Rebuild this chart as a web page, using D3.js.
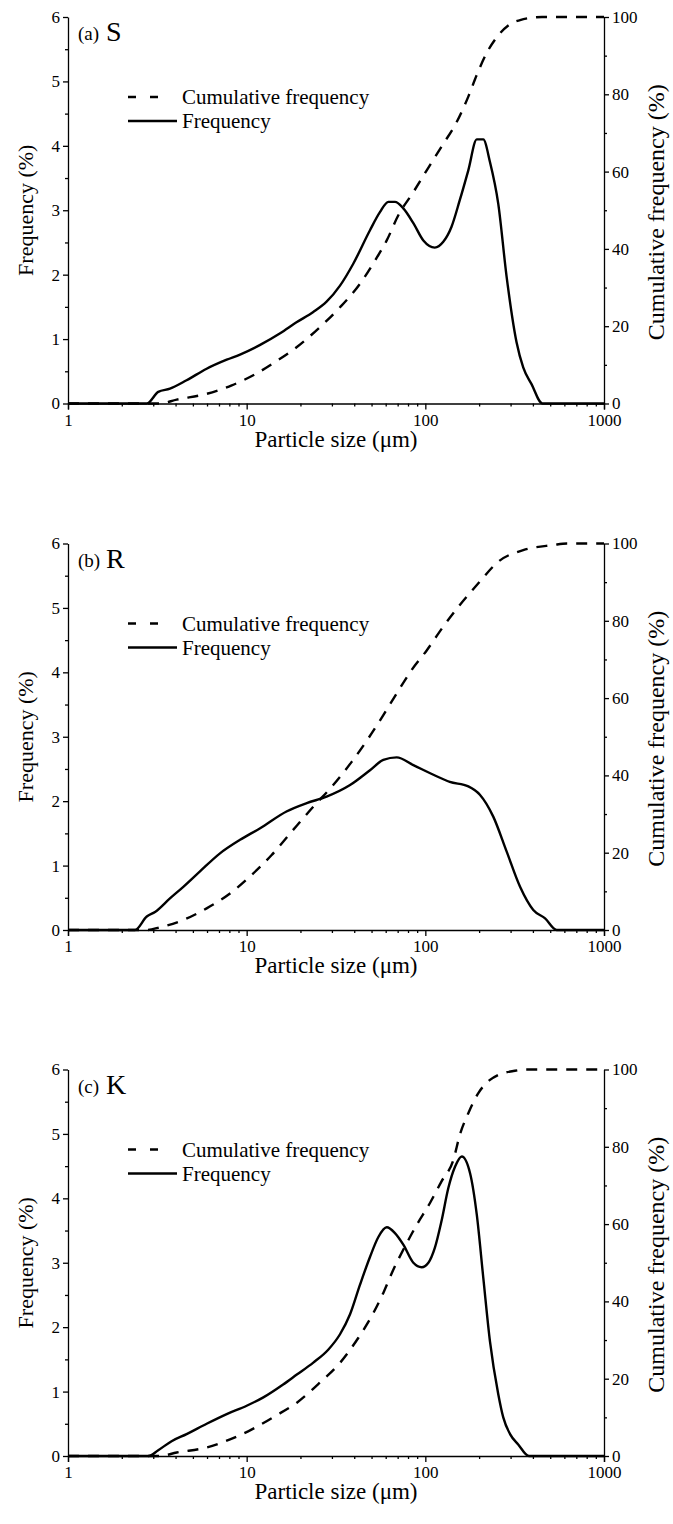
<!DOCTYPE html>
<html lang="en">
<head>
<meta charset="UTF-8">
<title>Particle size distribution</title>
<style>
  body { margin: 0; background: #fff; }
  svg, svg text { font-family: "Liberation Serif", "Times New Roman", serif; fill: #000; }
  .axis path, .axis line { stroke: #000; stroke-width: 1.3; }
  .freq { fill: none; stroke: #000; stroke-width: 2.4; stroke-linejoin: round; }
  .cum { fill: none; stroke: #000; stroke-width: 2.4; stroke-dasharray: 11,9; }
</style>
</head>
<body>
<svg id="chart"></svg>
<script src="https://d3js.org/d3.v7.min.js"></script>
<script>
// ---- data ----
// panel (a) S
var freqSizeS = [1, 2.76, 3.2, 3.72, 4.61, 5.97, 7.73, 9.18, 11.9, 15.4, 19.0, 23.6, 28.0, 33.3, 39.5, 49.0, 55.7, 62.1, 67.6, 75.3, 85.7, 97.5, 113, 126, 140, 156, 174, 194, 211, 230, 256, 285, 324, 353, 393, 452, 1000];
var freqS     = [0, 0, 0.18, 0.23, 0.36, 0.54, 0.68, 0.76, 0.91, 1.09, 1.26, 1.42, 1.58, 1.83, 2.17, 2.69, 2.97, 3.13, 3.13, 3.03, 2.80, 2.53, 2.42, 2.51, 2.74, 3.16, 3.62, 4.10, 4.10, 3.75, 3.10, 1.97, 0.95, 0.56, 0.30, 0, 0];
var cumSizeS  = [1, 3.27, 4.06, 5.97, 8.25, 11.1, 14.4, 19.1, 25.2, 33.3, 43.1, 52.3, 60.8, 70.6, 85.7, 102, 123, 150, 174, 194, 220, 262, 304, 339, 411, 450, 1000];
var cumS      = [0, 0, 1.0, 2.5, 4.7, 7.5, 10.7, 14.6, 19.4, 24.9, 31.0, 37.0, 42.2, 48.7, 54.7, 60.4, 66.4, 72.9, 79.4, 85.0, 90.6, 95.8, 98.4, 99.2, 99.9, 100, 100];

// panel (b) R
var freqSizeR = [1, 2.37, 2.76, 3.07, 3.72, 4.42, 5.48, 7.09, 9.18, 11.9, 16.7, 21.7, 28.0, 37.9, 49.0, 58.2, 69.1, 85.7, 111, 137, 174, 202, 240, 285, 339, 402, 468, 543, 1000];
var freqR     = [0, 0, 0.21, 0.28, 0.49, 0.67, 0.91, 1.19, 1.40, 1.58, 1.84, 1.97, 2.07, 2.25, 2.48, 2.64, 2.68, 2.56, 2.41, 2.30, 2.23, 2.10, 1.76, 1.22, 0.67, 0.31, 0.18, 0, 0];
var cumSizeR  = [1, 2.76, 3.27, 4.42, 5.97, 7.89, 10.4, 13.8, 18.2, 23.6, 30.5, 38.7, 48.0, 58.2, 69.1, 83.9, 102, 126, 156, 198, 256, 353, 520, 620, 1000];
var cumR      = [0, 0, 0.7, 2.6, 5.6, 9.1, 13.8, 19.4, 25.9, 31.9, 37.5, 43.5, 49.6, 55.6, 61.2, 67.3, 72.4, 78.5, 84.1, 89.7, 95.3, 98.3, 99.6, 100, 100];

// panel (c) K
var freqSizeK = [1, 2.82, 3.2, 3.80, 4.61, 5.97, 7.73, 10.0, 12.4, 16.0, 19.0, 23.6, 28.6, 33.3, 37.9, 43.1, 49.0, 54.6, 60.8, 67.6, 75.3, 85.7, 95.4, 104, 113, 123, 134.5, 146.6, 160, 178, 194, 211, 230, 256, 273, 298, 331, 380, 1000];
var freqK     = [0, 0, 0.09, 0.23, 0.34, 0.50, 0.65, 0.78, 0.91, 1.11, 1.26, 1.45, 1.65, 1.89, 2.20, 2.66, 3.09, 3.40, 3.55, 3.46, 3.28, 3.00, 2.93, 3.00, 3.23, 3.64, 4.16, 4.49, 4.65, 4.39, 3.75, 2.77, 1.78, 0.96, 0.60, 0.34, 0.18, 0, 0];
var cumSizeK  = [1, 3.27, 4.06, 5.97, 8.07, 10.7, 14.4, 19.1, 25.7, 33.3, 42.2, 50.1, 58.2, 66.2, 76.9, 89.5, 106, 123, 143.5, 156, 174, 198, 230, 256, 311, 360, 1000];
var cumK      = [0, 0, 0.9, 2.2, 4.3, 6.9, 10.3, 13.8, 19.0, 24.1, 30.6, 36.2, 42.2, 48.2, 54.2, 59.8, 65.4, 71.0, 76.6, 83.1, 88.7, 93.9, 97.3, 98.6, 99.6, 100, 100];

var panelTags   = ["(a)", "(b)", "(c)"];
var panelNames  = ["S", "R", "K"];
var freqTicks   = [0, 1, 2, 3, 4, 5, 6];
var cumTicks    = [0, 20, 40, 60, 80, 100];
var sizeTicks   = [1, 10, 100, 1000];
var legendNames = ["Cumulative frequency", "Frequency"];
var xTitle = "Particle size (\u03bcm)";
var yTitle = "Frequency (%)";
var y2Title = "Cumulative frequency (%)";

var panels = [
  { tag: panelTags[0], name: panelNames[0], fx: freqSizeS, fy: freqS, cx: cumSizeS, cy: cumS },
  { tag: panelTags[1], name: panelNames[1], fx: freqSizeR, fy: freqR, cx: cumSizeR, cy: cumR },
  { tag: panelTags[2], name: panelNames[2], fx: freqSizeK, fy: freqK, cx: cumSizeK, cy: cumK }
];

// ---- layout ----
var W = 673, H = 1524;
var left = 68, right = 604;
var plotH = 386.5;
var tops = [17, 543.5, 1069.5];
var serif = "'Liberation Serif', 'Times New Roman', serif";

var svg = d3.select("#chart").attr("width", W).attr("height", H)
  .style("font-family", serif);

var x = d3.scaleLog().domain([1, 1000]).range([left, right]);
var minorX = [];
[1, 10, 100].forEach(function(d) { for (var k = 2; k <= 9; k++) minorX.push(d * k); });

function fixText(a) {
  a.attr("font-family", null);
  a.selectAll("text").attr("font-size", 17).style("font-family", serif);
}

panels.forEach(function(p, i) {
  var top = tops[i];
  var g = svg.append("g").attr("transform", "translate(0," + top + ")");

  var y = d3.scaleLinear().domain([0, 6]).range([plotH, 0]);
  var y2 = d3.scaleLinear().domain([0, 100]).range([plotH, 0]);

  // bottom axis
  g.append("g").attr("class", "axis")
    .attr("transform", "translate(0," + plotH + ")")
    .call(d3.axisBottom(x).tickValues(sizeTicks).tickFormat(d3.format("d")).tickSizeOuter(0).tickSize(6).tickPadding(4))
    .call(fixText);
  g.append("g").attr("class", "axis")
    .attr("transform", "translate(0," + plotH + ")")
    .call(d3.axisBottom(x).tickValues(minorX).tickFormat("").tickSize(3).tickSizeOuter(0))
    .select(".domain").remove();

  // left axis
  g.append("g").attr("class", "axis")
    .attr("transform", "translate(" + left + ",0)")
    .call(d3.axisLeft(y).tickValues(freqTicks).tickFormat(d3.format("d")).tickSize(5).tickSizeOuter(0).tickPadding(3))
    .call(fixText);
  g.append("g").attr("class", "axis")
    .attr("transform", "translate(" + left + ",0)")
    .call(d3.axisLeft(y).tickValues(d3.range(0.5, 6, 1)).tickFormat("").tickSize(3))
    .select(".domain").remove();

  // right axis
  g.append("g").attr("class", "axis")
    .attr("transform", "translate(" + right + ",0)")
    .call(d3.axisRight(y2).tickValues(cumTicks).tickFormat(d3.format("d")).tickSize(5).tickSizeOuter(0).tickPadding(3))
    .call(fixText);
  g.append("g").attr("class", "axis")
    .attr("transform", "translate(" + right + ",0)")
    .call(d3.axisRight(y2).tickValues(d3.range(10, 100, 20)).tickFormat("").tickSize(3))
    .select(".domain").remove();

  // lines
  var fLine = d3.line().x(function(d) { return x(d[0]); }).y(function(d) { return y(d[1]); }).curve(d3.curveMonotoneX);
  var cLine = d3.line().x(function(d) { return x(d[0]); }).y(function(d) { return y2(d[1]); }).curve(d3.curveMonotoneX);

  g.append("path").attr("class", "cum").attr("d", cLine(d3.zip(p.cx, p.cy)));
  g.append("path").attr("class", "freq").attr("d", fLine(d3.zip(p.fx, p.fy)));

  // panel label
  g.append("text").attr("x", 78).attr("y", 23).attr("font-size", 19).text(p.tag);
  g.append("text").attr("x", 106).attr("y", 24).attr("font-size", 28).text(p.name);

  // legend
  g.append("line").attr("x1", 128).attr("x2", 160).attr("y1", 80).attr("y2", 80)
    .attr("stroke", "#000").attr("stroke-width", 2.4).attr("stroke-dasharray", "8,14");
  g.append("text").attr("x", 182).attr("y", 87).attr("font-size", 21).text(legendNames[0]);
  g.append("line").attr("x1", 128).attr("x2", 177).attr("y1", 104).attr("y2", 104)
    .attr("stroke", "#000").attr("stroke-width", 2.4);
  g.append("text").attr("x", 182).attr("y", 111).attr("font-size", 21).text(legendNames[1]);

  // axis titles
  g.append("text").attr("x", (left + right) / 2).attr("y", plotH + 43)
    .attr("text-anchor", "middle").attr("font-size", 23).text(xTitle);
  g.append("text").attr("transform", "translate(33," + plotH / 2 + ") rotate(-90)")
    .attr("text-anchor", "middle").attr("font-size", 22).text(yTitle);
  g.append("text").attr("transform", "translate(664," + (plotH / 2 + 2) + ") rotate(-90)")
    .attr("text-anchor", "middle").attr("font-size", 24).text(y2Title);
});
</script>
</body>
</html>
